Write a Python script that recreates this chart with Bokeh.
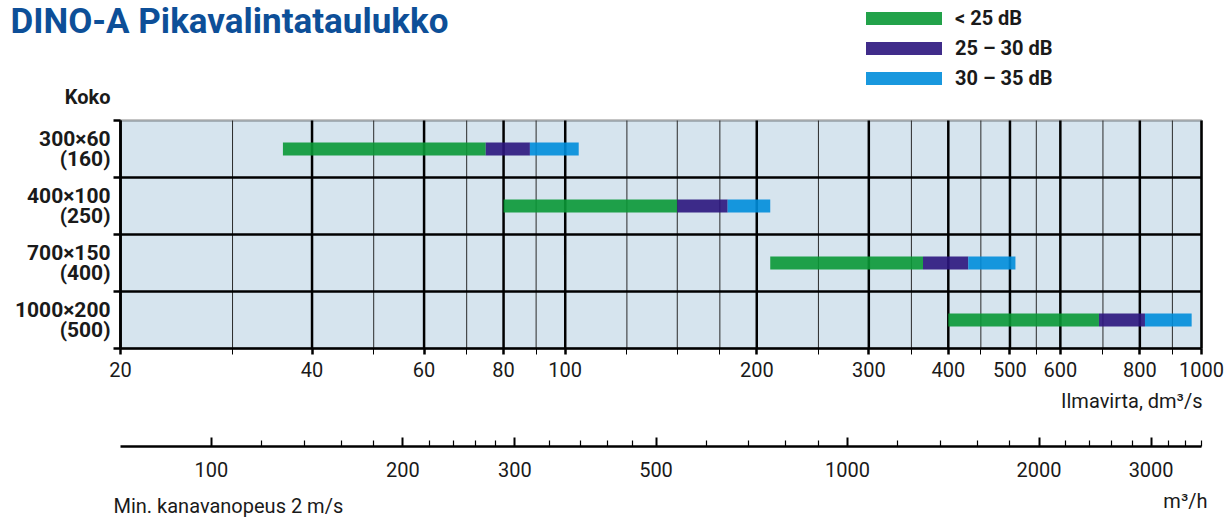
import math
from bokeh.plotting import figure
from bokeh.models import (FixedTicker, NumeralTickFormatter, LogAxis, LinearAxis, Range1d, LogScale,
                          Label, Legend, LegendItem, BoxAnnotation)
from bokeh.embed import file_html
from bokeh.resources import INLINE

# ---------------- data ----------------
sizes = ["300×60\n(160)", "400×100\n(250)", "700×150\n(400)", "1000×200\n(500)"]
flow_min = [36, 80, 210, 400]          # dm3/s, start of bar
end_lt25 = [75, 150, 365, 690]         # end of < 25 dB
end_25_30 = [88, 180, 430, 815]        # end of 25-30 dB
end_30_35 = [105, 210, 510, 965]       # end of 30-35 dB

legend_labels = ["< 25 dB", "25 – 30 dB", "30 – 35 dB"]
bar_colors = ["#0a9836", "#2b157d", "#008dda"]

X_MIN, X_MAX = 20, 1000                 # dm3/s scale limits
M3H_PER_DM3S = 3.6
x_major = [20, 40, 60, 80, 100, 200, 300, 400, 500, 600, 800, 1000]
x_minor = [30, 50, 70, 90, 125, 150, 175, 250, 350, 450, 550, 700, 900]
m3h_major = [100, 200, 300, 500, 1000, 2000, 3000]
m3h_minor = [120, 140, 160, 180, 220, 240, 260, 280, 340, 380, 420, 460,
             600, 700, 800, 900, 1200, 1400, 1600, 1800, 2200, 2400, 2600, 2800,
             3200, 3400, 3600]

# ---------------- layout (pixels) ----------------
W, H = 1232, 523
PL, PR, PT, PB = 120, 1201, 120, 348      # chart box in page pixels
FONT = "Roboto"
TXT = "#1a1a1a"

n = len(sizes)
ys = [n - 0.5 - i for i in range(n)]
segments = [(flow_min, end_lt25), (end_lt25, end_25_30), (end_25_30, end_30_35)]

# ranges chosen so the whole canvas is the frame and the chart box sits at PL..PR, PT..PB
ppd = (PR - PL) / math.log10(X_MAX / X_MIN)
xs = 10 ** (math.log10(X_MIN) - PL / ppd)
xe = 10 ** (math.log10(X_MAX) + (W - PR) / ppd)
ppu = (PB - PT) / n
y0 = -(H - PB) / ppu
y1 = n + PT / ppu

p = figure(width=W, height=H, x_axis_type="log", x_range=Range1d(xs, xe), y_range=Range1d(y0, y1),
           x_axis_location=None, y_axis_location=None,
           output_backend="svg", toolbar_location=None, title=None, min_border=0)
p.outline_line_color = None
p.grid.visible = False
p.background_fill_color = "white"
p.border_fill_color = "white"

# chart background + frame
p.add_layout(BoxAnnotation(left=X_MIN, right=X_MAX, bottom=0, top=n, fill_color="#d6e4ee",
                           fill_alpha=1, line_color="black", line_width=2.5, level="underlay"))

# grid lines (vertical at ticks, horizontal between rows)
p.segment(x0=x_minor, y0=[0] * len(x_minor), x1=x_minor, y1=[n] * len(x_minor),
          line_color="#2a2a2a", line_width=1)
p.segment(x0=x_major, y0=[0] * len(x_major), x1=x_major, y1=[n] * len(x_major),
          line_color="black", line_width=2.5)
row_edges = list(range(1, n))
p.segment(x0=[X_MIN] * len(row_edges), y0=row_edges, x1=[X_MAX] * len(row_edges), y1=row_edges,
          line_color="black", line_width=2.5)

# bars
bar_r = []
for (l, r), c in zip(segments, bar_colors):
    bar_r.append(p.hbar(y=ys, left=l, right=r, height=0.228, fill_color=c, fill_alpha=0.9,
                        line_color=None))

# ---------------- axes ----------------
xa = LogAxis(fixed_location=0, bounds=(X_MIN, X_MAX))
xa.ticker = FixedTicker(ticks=x_major, minor_ticks=x_minor)
xa.formatter = NumeralTickFormatter(format="0")
xa.axis_line_width = 2.5
xa.major_tick_line_width = 2.5
xa.major_tick_out = 6
xa.major_tick_in = 0
xa.minor_tick_line_width = 1
xa.minor_tick_out = 6
xa.minor_tick_in = 0
xa.major_label_text_font = FONT
xa.major_label_text_font_size = "20px"
xa.major_label_text_color = TXT
xa.major_label_standoff = 7
p.add_layout(xa, "below")

ya = LinearAxis(fixed_location=X_MIN, bounds=(0, n))
ya.ticker = FixedTicker(ticks=ys, minor_ticks=list(range(n + 1)))
ya.major_label_overrides = {y: s for y, s in zip(ys, sizes)}
ya.axis_line_width = 2.5
ya.major_tick_line_color = None
ya.major_tick_out = 0
ya.major_tick_in = 0
ya.minor_tick_line_width = 2.5
ya.minor_tick_out = 7
ya.minor_tick_in = 0
ya.major_label_text_font = FONT
ya.major_label_text_font_style = "bold"
ya.major_label_text_font_size = "21px"
ya.major_label_text_color = TXT
ya.major_label_text_line_height = 0.82
ya.major_label_standoff = 3
p.add_layout(ya, "left")

p.extra_x_ranges = {"m3h": Range1d(xs * M3H_PER_DM3S, xe * M3H_PER_DM3S)}
p.extra_x_scales = {"m3h": LogScale()}
ax2 = LogAxis(x_range_name="m3h", fixed_location=-(446 - PB) / ppu,
              bounds=(X_MIN * M3H_PER_DM3S, X_MAX * M3H_PER_DM3S))
ax2.ticker = FixedTicker(ticks=m3h_major, minor_ticks=m3h_minor)
ax2.formatter = NumeralTickFormatter(format="0")
ax2.axis_line_width = 2.5
ax2.major_tick_line_width = 2
ax2.major_tick_in = 9
ax2.major_tick_out = 0
ax2.minor_tick_line_width = 1.2
ax2.minor_tick_in = 6
ax2.minor_tick_out = 0
ax2.major_label_text_font = FONT
ax2.major_label_text_font_size = "20px"
ax2.major_label_text_color = TXT
ax2.major_label_standoff = 15
p.add_layout(ax2, "below")

# ---------------- legend ----------------
legend = Legend(items=[LegendItem(label=t, renderers=[r]) for t, r in zip(legend_labels, bar_r)],
                location=(856, H - 90), orientation="vertical",
                glyph_width=95, glyph_height=16, label_standoff=4, spacing=6,
                padding=0, margin=0, border_line_color=None, background_fill_alpha=0,
                label_text_font=FONT, label_text_font_style="bold",
                label_text_font_size="20px", label_text_color=TXT)
p.add_layout(legend)


# ---------------- texts (page pixel positions) ----------------
def lab(text, x, y, size, align="left", bold=False, color=TXT):
    p.add_layout(Label(text=text, x=x, y=H - y, x_units="screen", y_units="screen",
                       text_font=FONT, text_font_size=size, text_align=align,
                       text_baseline="middle", text_color=color,
                       text_font_style="bold" if bold else "normal"))


lab("DINO-A Pikavalintataulukko", 10, 21, "35px", bold=True, color="#0d4f98")
lab("Koko", 110, 96, "20px", align="right", bold=True)
lab("Ilmavirta, dm³/s", 1202, 400, "20px", align="right")
lab("m³/h", 1207, 500, "20px", align="right")
lab("Min. kanavanopeus 2 m/s", 113, 505, "20px")

open("out.html", "w").write(file_html(p, INLINE))
